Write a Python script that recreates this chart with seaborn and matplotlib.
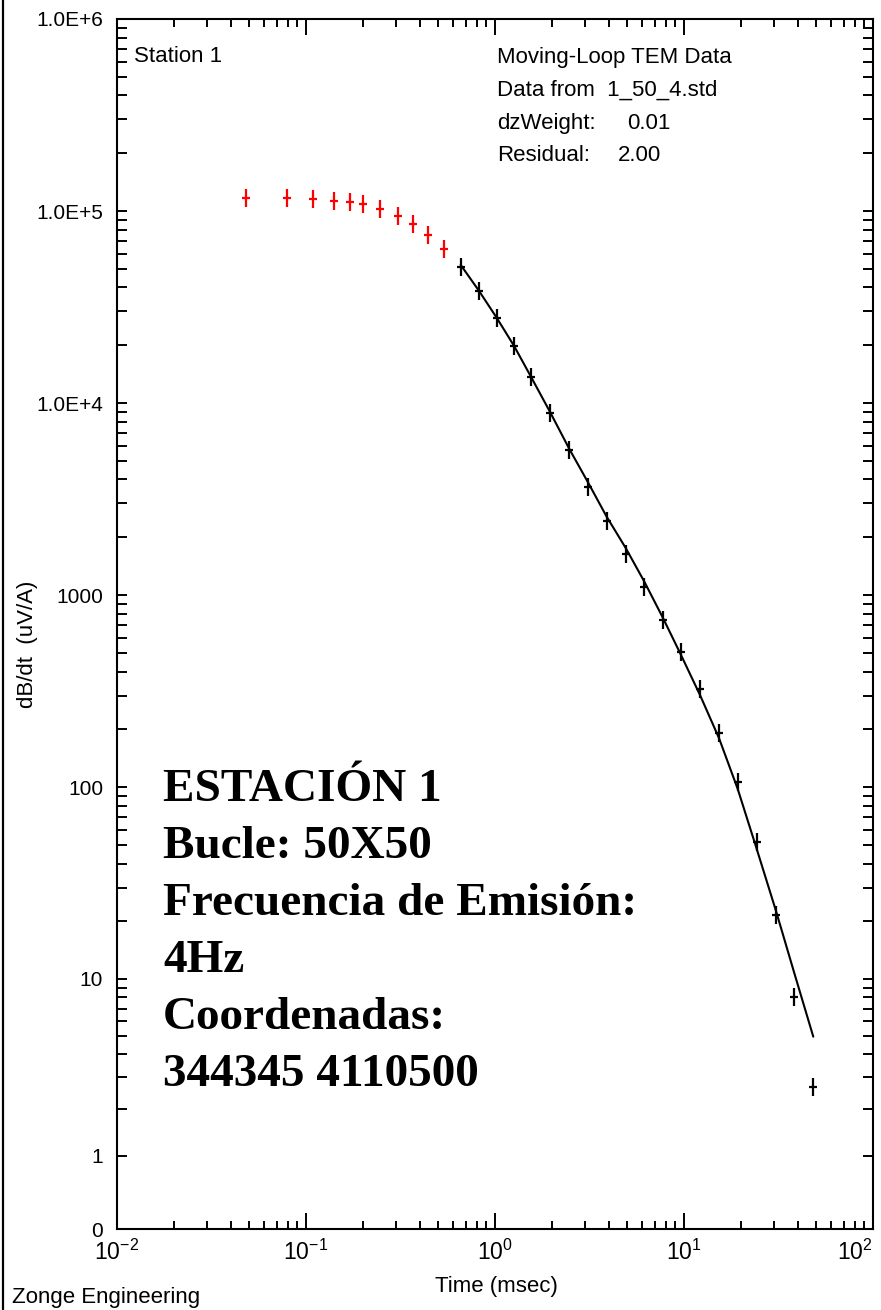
import numpy as np
import pandas as pd
import matplotlib
matplotlib.use("Agg")
import matplotlib.pyplot as plt
from matplotlib.path import Path
from matplotlib.lines import Line2D
from matplotlib.ticker import FixedLocator, NullFormatter
import seaborn as sns

# ---- sounding data: dB/dt (uV/A) versus time (msec) ----
early_time = [0.048, 0.079, 0.109, 0.140, 0.170, 0.201, 0.246, 0.308, 0.367, 0.444, 0.535]
early_dbdt = [117000, 117000, 115700, 113400, 111300, 108600, 102300, 94100, 85800, 74600, 63600]

gate_time = [0.658, 0.823, 1.021, 1.261, 1.551, 1.954, 2.473, 3.117, 3.899, 4.915,
             6.166, 7.743, 9.641, 12.15, 15.32, 19.24, 24.25, 30.68, 38.33, 48.32]
gate_dbdt = [51400, 38550, 27890, 19860, 13750, 8925, 5705, 3674, 2444, 1639,
             1108, 742.6, 504, 323.5, 192.2, 106, 52.0, 21.6, 8.02, 2.66]
model_dbdt = [52450, 38400, 27800, 19860, 13700, 9000, 5770, 3840, 2560, 1760,
              1176, 760, 488, 302, 180, 97.9, 47.7, 22.65, 10.75, 4.97]

y_major = [0, 1, 10, 100, 1000, 1e4, 1e5, 1e6]
y_major_labels = ["0", "1", "10", "100", "1000", "1.0E+4", "1.0E+5", "1.0E+6"]
x_major = [0.01, 0.1, 1, 10, 100]
x_major_labels = [r"$\mathregular{10^{-2}}$", r"$\mathregular{10^{-1}}$",
                  r"$\mathregular{10^{0}}$", r"$\mathregular{10^{1}}$",
                  r"$\mathregular{10^{2}}$"]

info_lines = ["Moving-Loop TEM Data", "Data from  1_50_4.std", "dzWeight:", "Residual:"]
info_values = ["", "", "0.01", "2.00"]
station_lines = ["ESTACIÓN 1", "Bucle: 50X50", "Frecuencia de Emisión:", "4Hz",
                 "Coordenadas:", "344345 4110500"]

early_df = pd.DataFrame({"time": early_time, "dbdt": early_dbdt})
gate_df = pd.DataFrame({"time": gate_time, "dbdt": gate_dbdt, "model": model_dbdt})

sns.set_theme(style="ticks")
plt.rcParams["font.family"] = ["Liberation Sans", "DejaVu Sans"]
plt.rcParams["mathtext.fontset"] = "custom"
plt.rcParams["mathtext.rm"] = "Liberation Sans"
for key in ["text.color", "axes.labelcolor", "xtick.color", "ytick.color", "axes.edgecolor"]:
    plt.rcParams[key] = "black"

fig = plt.figure(figsize=(8.81, 13.10), dpi=100)
fig.patch.set_facecolor("white")
ax = fig.add_axes([0.1328, 0.0618, 0.8581, 0.9237])
ax.set_facecolor("white")

# tall plus symbol used for every sounding value
cross = Path([(-0.22, 0), (0.22, 0), (0, -0.5), (0, 0.5)],
             [Path.MOVETO, Path.LINETO, Path.MOVETO, Path.LINETO])

sns.lineplot(data=gate_df, x="time", y="model", ax=ax, color="black",
             linewidth=1.5, sort=True, estimator=None)
sns.scatterplot(data=early_df, x="time", y="dbdt", ax=ax, marker=cross, s=168,
                facecolors="none", edgecolor="#ff0000", linewidth=1.6, zorder=3)
sns.scatterplot(data=gate_df, x="time", y="dbdt", ax=ax, marker=cross, s=168,
                facecolors="none", edgecolor="black", linewidth=1.6, zorder=3)

ax.set_xscale("log")
ax.set_yscale("asinh", linear_width=1)
ax.set_xlim(0.01, 100)
ax.set_ylim(0, 1e6)

ax.xaxis.set_major_locator(FixedLocator(x_major))
ax.set_xticklabels(x_major_labels)
ax.xaxis.set_minor_locator(FixedLocator([k * 10.0 ** e for e in range(-2, 2) for k in range(2, 10)]))
ax.xaxis.set_minor_formatter(NullFormatter())

ax.yaxis.set_major_locator(FixedLocator(y_major))
ax.set_yticklabels(y_major_labels)
ax.yaxis.set_minor_locator(FixedLocator([k * 10.0 ** e for e in range(0, 6) for k in range(2, 10)]))
ax.yaxis.set_minor_formatter(NullFormatter())

for side in ["left", "right", "top", "bottom"]:
    ax.spines[side].set_visible(True)
    ax.spines[side].set_linewidth(1.5)
    ax.spines[side].set_color("black")

ax.tick_params(axis="both", which="both", direction="in", top=True, right=True,
               width=1.4, color="black", labelcolor="black")
ax.tick_params(axis="x", which="major", length=11.5, labelsize=16.5, pad=8)
ax.tick_params(axis="x", which="minor", length=5.8)
ax.tick_params(axis="y", which="both", length=7.5)
ax.tick_params(axis="y", which="major", labelsize=15, pad=10)

# keep the last decade label inside the figure edge
ax.get_xticklabels()[-1].set_ha("right")

ax.set_xlabel("Time (msec)", fontsize=16)
ax.xaxis.label.set_va("center")
ax.xaxis.set_label_coords(0.5013, -0.0471)
ax.set_ylabel("dB/dt  (uV/A)", fontsize=16)
ax.yaxis.label.set_va("center")
ax.yaxis.set_label_coords(-0.119, 0.483)

# header annotations
ax.text(0.0225, 0.9686, "Station 1", transform=ax.transAxes, fontsize=16,
        ha="left", va="center")
info_y = [0.9678, 0.9413, 0.9136, 0.8876]
info_val_x = [0.0, 0.0, 0.6746, 0.6627]
for line, val, yy, vx in zip(info_lines, info_values, info_y, info_val_x):
    ax.text(0.5026, yy, line, transform=ax.transAxes, fontsize=16, ha="left", va="center")
    if val:
        ax.text(vx, yy, val, transform=ax.transAxes, fontsize=16, ha="left", va="center")

# station description block
block_y = [0.3537, 0.3066, 0.2595, 0.2124, 0.1653, 0.1182]
for line, yy in zip(station_lines, block_y):
    ax.text(0.0608, yy, line, transform=ax.transAxes, fontsize=34,
            fontweight="bold", family=["Liberation Serif", "DejaVu Serif"],
            ha="left", va="baseline")

fig.text(0.0136, 0.0099, "Zonge Engineering", fontsize=16, ha="left", va="center")
fig.add_artist(Line2D([0.0034, 0.0034], [0, 1], transform=fig.transFigure,
                      color="black", linewidth=1.6))

fig.savefig("out.png", dpi=100)
